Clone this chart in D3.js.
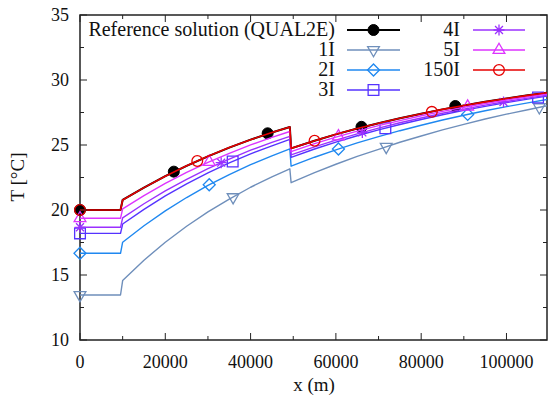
<!DOCTYPE html>
<html>
<head>
<meta charset="utf-8">
<script src="https://cdn.jsdelivr.net/npm/d3@7"></script>
<style>
  body { margin: 0; background: #fff; }
  text { font-family: "Liberation Serif", "Times New Roman", serif; fill: #111; }
</style>
</head>
<body>
<svg id="chart"></svg>
<script>
// distance along the river (m), shared by every series
const xs = [0, 9500, 10000, 15000, 20000, 25000, 30000, 35000, 40000, 45000, 49200,
  49500, 55000, 60000, 65000, 70000, 75000, 80000, 85000, 90000, 95000, 100000, 105000, 109500];

const tRef = [20.0, 20.0, 20.77, 21.72, 22.6, 23.4, 24.13, 24.8, 25.41, 25.96, 26.39,
  24.74, 25.33, 25.82, 26.27, 26.68, 27.06, 27.41, 27.74, 28.04, 28.32, 28.58, 28.82, 29.02];
const t1I = [13.46, 13.46, 14.57, 16.14, 17.52, 18.75, 19.85, 20.83, 21.75, 22.55, 23.17,
  22.1, 22.87, 23.52, 24.13, 24.67, 25.21, 25.69, 26.16, 26.59, 27.0, 27.37, 27.71, 28.02];
const t2I = [16.67, 16.67, 17.52, 18.79, 19.93, 20.96, 21.89, 22.72, 23.49, 24.17, 24.7,
  23.37, 24.06, 24.63, 25.16, 25.64, 26.1, 26.52, 26.92, 27.29, 27.63, 27.95, 28.24, 28.5];
const t3I = [18.2, 18.2, 18.92, 20.05, 21.08, 22.01, 22.85, 23.62, 24.32, 24.94, 25.43,
  24.05, 24.69, 25.22, 25.71, 26.16, 26.58, 26.96, 27.33, 27.66, 27.97, 28.26, 28.53, 28.76];
const t4I = [18.67, 18.67, 19.39, 20.48, 21.47, 22.36, 23.18, 23.92, 24.6, 25.2, 25.67,
  24.24, 24.86, 25.38, 25.86, 26.3, 26.71, 27.08, 27.44, 27.76, 28.07, 28.35, 28.61, 28.83];
const t5I = [19.36, 19.36, 20.09, 21.11, 22.04, 22.89, 23.66, 24.36, 25.01, 25.59, 26.04,
  24.49, 25.1, 25.6, 26.07, 26.49, 26.88, 27.25, 27.59, 27.9, 28.19, 28.46, 28.71, 28.92];
const t150I = [20.0, 20.0, 20.77, 21.72, 22.6, 23.4, 24.13, 24.8, 25.41, 25.96, 26.39,
  24.74, 25.33, 25.82, 26.27, 26.68, 27.06, 27.41, 27.74, 28.04, 28.32, 28.58, 28.82, 29.02];

// point markers [x, T]
const mRef = [[0, 20.0], [22000, 22.95], [44000, 25.9], [66000, 26.4], [88000, 28.0]];
const m1I = [[0, 13.46], [35900, 20.99], [71800, 24.86], [107700, 27.91]];
const m2I = [[0, 16.67], [30300, 21.94], [60600, 24.69], [90900, 27.35]];
const m3I = [[0, 18.2], [35800, 23.73], [71600, 26.29], [107400, 28.65]];
const m4I = [[0, 18.67], [33100, 23.64], [66200, 25.97], [99300, 28.31]];
const m5I = [[0, 19.36], [30300, 23.7], [60600, 25.66], [90900, 27.95]];
const m150I = [[0, 20.0], [27500, 23.77], [55000, 25.33], [82500, 27.55]];

const xTicks = [0, 20000, 40000, 60000, 80000, 100000];
const yTicks = [10, 15, 20, 25, 30, 35];

const width = 548;
const height = 398;
const margin = { top: 15, right: 1, bottom: 58, left: 80 };

const series = [
  { title: "Reference solution (QUAL2E)", t: tRef, marks: mRef, color: "#000000", lw: 2, shape: "dot", col: 0, row: 0 },
  { title: "1I", t: t1I, marks: m1I, color: "#6f8fbb", lw: 1.4, shape: "tridown", col: 0, row: 1 },
  { title: "2I", t: t2I, marks: m2I, color: "#1f88f0", lw: 1.4, shape: "diamond", col: 0, row: 2 },
  { title: "3I", t: t3I, marks: m3I, color: "#5533ff", lw: 1.4, shape: "square", col: 0, row: 3 },
  { title: "4I", t: t4I, marks: m4I, color: "#9b30ff", lw: 1.4, shape: "star", col: 1, row: 0 },
  { title: "5I", t: t5I, marks: m5I, color: "#dd33ff", lw: 1.4, shape: "triup", col: 1, row: 1 },
  { title: "150I", t: t150I, marks: m150I, color: "#e60000", lw: 1.6, shape: "circle", col: 1, row: 2 },
];

const svg = d3.select("#chart").attr("width", width).attr("height", height);

const xScale = d3.scaleLinear().domain([0, 109500]).range([margin.left, width - margin.right]);
const yScale = d3.scaleLinear().domain([10, 35]).range([height - margin.bottom, margin.top]);

const x0 = margin.left;
const x1 = width - margin.right;
const y0 = height - margin.bottom;
const y1 = margin.top;

svg.append("defs").append("clipPath").attr("id", "plotClip")
  .append("rect").attr("x", x0).attr("y", y1).attr("width", x1 - x0).attr("height", y0 - y1);

// gnuplot style "*" : plus and cross on top of each other
const starPath = (r) => {
  const q = r * 0.72;
  return `M${-r},0H${r}M0,${-r}V${r}M${-q},${-q}L${q},${q}M${-q},${q}L${q},${-q}`;
};

const drawMark = (g, shape, color) => {
  if (shape === "star") {
    g.append("path")
      .attr("d", starPath(5.5))
      .attr("fill", "none")
      .attr("stroke", color)
      .attr("stroke-width", 1.3);
    return;
  }
  const sym = {
    dot: [d3.symbolCircle, 95, 0],
    circle: [d3.symbolCircle, 90, 0],
    square: [d3.symbolSquare, 115, 0],
    diamond: [d3.symbolSquare, 72, 45],
    triup: [d3.symbolTriangle, 60, 0],
    tridown: [d3.symbolTriangle, 60, 180],
  }[shape];
  g.append("path")
    .attr("d", d3.symbol().type(sym[0]).size(sym[1])())
    .attr("transform", `rotate(${sym[2]})`)
    .attr("fill", shape === "dot" ? color : "none")
    .attr("stroke", color)
    .attr("stroke-width", shape === "dot" ? 1 : 1.3);
};

const lineGenerator = d3.line()
  .x((d) => xScale(d[0]))
  .y((d) => yScale(d[1]));

const plot = svg.append("g");

series.forEach((s) => {
  const pts = xs.map((x, i) => [x, s.t[i]]);
  plot.append("path")
    .attr("clip-path", "url(#plotClip)")
    .attr("d", lineGenerator(pts))
    .attr("fill", "none")
    .attr("stroke", s.color)
    .attr("stroke-width", s.lw)
    .attr("stroke-linejoin", "round");

  // markers are not clipped (gnuplot draws them whole on the border)
  s.marks.forEach((m) => {
    const g = plot.append("g")
      .attr("transform", `translate(${xScale(m[0])},${yScale(m[1])})`);
    drawMark(g, s.shape, s.color);
  });
});

// frame
svg.insert("rect", "g")
  .attr("x", x0).attr("y", y1)
  .attr("width", x1 - x0).attr("height", y0 - y1)
  .attr("fill", "none").attr("stroke", "#222").attr("stroke-width", 1.5);

// ticks (inward, mirrored)
const tickG = svg.append("g").attr("stroke", "#222").attr("stroke-width", 1);
const xMinor = d3.range(10000, 109500, 20000);
const yMinor = d3.range(12.5, 35, 5);

xTicks.forEach((v) => {
  const x = xScale(v);
  tickG.append("line").attr("x1", x).attr("x2", x).attr("y1", y0).attr("y2", y0 - 7);
  tickG.append("line").attr("x1", x).attr("x2", x).attr("y1", y1).attr("y2", y1 + 7);
});
xMinor.forEach((v) => {
  const x = xScale(v);
  tickG.append("line").attr("x1", x).attr("x2", x).attr("y1", y0).attr("y2", y0 - 4);
  tickG.append("line").attr("x1", x).attr("x2", x).attr("y1", y1).attr("y2", y1 + 4);
});
yTicks.forEach((v) => {
  const y = yScale(v);
  tickG.append("line").attr("x1", x0).attr("x2", x0 + 7).attr("y1", y).attr("y2", y);
  tickG.append("line").attr("x1", x1).attr("x2", x1 - 7).attr("y1", y).attr("y2", y);
});
yMinor.forEach((v) => {
  const y = yScale(v);
  tickG.append("line").attr("x1", x0).attr("x2", x0 + 4).attr("y1", y).attr("y2", y);
  tickG.append("line").attr("x1", x1).attr("x2", x1 - 4).attr("y1", y).attr("y2", y);
});

// tick labels
svg.selectAll(".xTickLabel")
  .data(xTicks)
  .join("text")
  .attr("class", "xTickLabel")
  .attr("x", (d) => xScale(d))
  .attr("y", y0 + 28)
  .attr("text-anchor", "middle")
  .attr("font-size", 18)
  .text((d) => d);

svg.selectAll(".yTickLabel")
  .data(yTicks)
  .join("text")
  .attr("class", "yTickLabel")
  .attr("x", x0 - 11)
  .attr("y", (d) => yScale(d) + 6)
  .attr("text-anchor", "end")
  .attr("font-size", 18)
  .text((d) => d);

// axis labels
svg.append("text")
  .attr("x", 314)
  .attr("y", 391)
  .attr("text-anchor", "middle")
  .attr("font-size", 19)
  .text("x (m)");

svg.append("text")
  .attr("transform", "translate(24,177) rotate(-90)")
  .attr("text-anchor", "middle")
  .attr("font-size", 19)
  .text("T [°C]");

// legend
const legendCols = [
  { textX: 335, lineX1: 347, lineX2: 400 },
  { textX: 460, lineX1: 473, lineX2: 525 },
];
const legendY0 = 30;
const legendDy = 20;

series.forEach((s) => {
  const c = legendCols[s.col];
  const y = legendY0 + s.row * legendDy;
  svg.append("text")
    .attr("x", c.textX)
    .attr("y", y + 6)
    .attr("text-anchor", "end")
    .attr("font-size", 20)
    .text(s.title);
  svg.append("line")
    .attr("x1", c.lineX1).attr("x2", c.lineX2)
    .attr("y1", y).attr("y2", y)
    .attr("stroke", s.color)
    .attr("stroke-width", s.lw);
  const g = svg.append("g")
    .attr("transform", `translate(${(c.lineX1 + c.lineX2) / 2},${y})`);
  drawMark(g, s.shape, s.color);
});
</script>
</body>
</html>
